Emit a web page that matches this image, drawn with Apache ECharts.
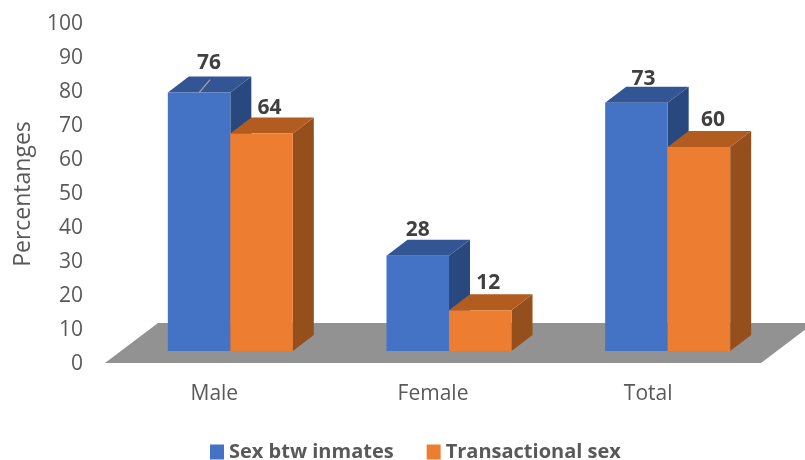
<!DOCTYPE html>
<html>
<head>
<meta charset="utf-8">
<style>html,body{margin:0;padding:0;background:#fff}#chart{width:805px;height:460px}</style>
<script src="https://cdn.jsdelivr.net/npm/echarts@6/dist/echarts.min.js"></script>
</head>
<body>
<div id="chart"></div>
<script>
var categories = ['Male', 'Female', 'Total'];
var inmates = [76, 28, 73];
var transactional = [64, 12, 60];
var yTicks = [0, 100, 10];

// label nudges, from the top centre of the front face of each bar
var inmatesNudge = [[10, -30], [0, -26], [7, -24]];
var transactionalNudge = [[8, -25], [8, -27], [14, -27]];

var FONT = '"Open Sans", sans-serif';
var BAR_W = 62.5, DX = 21, DY = -16;
var SHIFT_X = 16, SHIFT_Y = -13;

function poly(points, color) {
    return {type: 'polygon', shape: {points: points}, style: {fill: color}};
}

var makeBars = function (side, front, top, edge, nudges) {
    return function (params, api) {
        var i = params.dataIndex;
        var t = api.coord([api.value(0), api.value(1)]);
        var b = api.coord([api.value(0), 0]);
        // side 0 sits left of the category centre, side 1 right of it
        var x0 = t[0] + SHIFT_X + (side - 1) * BAR_W, x1 = x0 + BAR_W;
        var y0 = t[1] + SHIFT_Y, y1 = b[1] + SHIFT_Y;
        var n = nudges[i];
        var cx = (x0 + x1) / 2;
        var children = [
            poly([[x1, y0], [x1 + DX, y0 + DY], [x1 + DX, y1 + DY], [x1, y1]], edge),
            poly([[x0, y0], [x0 + DX, y0 + DY], [x1 + DX, y0 + DY], [x1, y0]], top),
            poly([[x0, y0], [x1, y0], [x1, y1], [x0, y1]], front)
        ];
        // the original has a leader line on the first label only
        if (side === 0 && i === 0) {
            children.push({type: 'line', shape: {x1: cx, y1: y0, x2: cx + 11, y2: y0 - 13},
                style: {stroke: '#a6a6a6', lineWidth: 1.2}});
        }
        children.push({type: 'text', style: {
            x: cx + n[0], y: y0 + n[1], text: String(api.value(1)),
            align: 'center', verticalAlign: 'middle',
            font: 'bold 21px ' + FONT, fill: '#404040'
        }});
        return {type: 'group', children: children};
    };
};

var myChart = echarts.init(document.getElementById('chart'), null, {renderer: 'canvas'});

var option = {
    animation: false,
    backgroundColor: '#ffffff',
    grid: {left: 105, right: 44, top: 24, bottom: 96, outerBoundsMode: 'none'},
    legend: {
        data: ['Sex btw inmates', 'Transactional sex'],
        left: 205, top: 437,
        icon: 'rect', itemWidth: 14, itemHeight: 15, itemGap: 33,
        textStyle: {fontFamily: FONT, fontWeight: 'bold', fontSize: 20, color: '#595959'}
    },
    xAxis: {
        type: 'category',
        data: categories,
        axisLine: {show: false},
        axisTick: {show: false},
        axisLabel: {
            fontFamily: FONT, fontSize: 21, color: '#595959', margin: 20,
            // "Total" sits a little left of its slot in the original
            formatter: function (v) { return v === 'Total' ? '{last|' + v + '}' : v; },
            rich: {last: {fontFamily: FONT, fontSize: 21, color: '#595959', padding: [0, 7, 0, 0]}}
        }
    },
    yAxis: {
        type: 'value',
        min: yTicks[0], max: yTicks[1], interval: yTicks[2],
        name: 'Percentanges',
        nameLocation: 'middle',
        nameGap: 70,
        nameTextStyle: {fontFamily: FONT, fontSize: 23, color: '#595959'},
        axisLine: {show: false},
        axisTick: {show: false},
        splitLine: {show: false},
        axisLabel: {fontFamily: FONT, fontSize: 21, color: '#595959', margin: 22}
    },
    series: [{
        type: 'custom',
        name: 'floor',
        silent: true,
        data: [[0, 0]],
        renderItem: function (params) {
            var g = params.coordSys;
            var yb = g.y + g.height - 1, yt = yb - 40, run = 53;
            return poly([[g.x, yb], [g.x + run, yt], [g.x + g.width + run, yt], [g.x + g.width, yb]], '#929292');
        }
    }, {
        type: 'custom',
        name: 'Sex btw inmates',
        itemStyle: {color: '#4472C4'},
        encode: {x: 0, y: 1},
        data: categories.map(function (c, i) { return [i, inmates[i]]; }),
        renderItem: makeBars(0, '#4472C4', '#335593', '#2A4880', inmatesNudge)
    }, {
        type: 'custom',
        name: 'Transactional sex',
        itemStyle: {color: '#ED7D31'},
        encode: {x: 0, y: 1},
        data: categories.map(function (c, i) { return [i, transactional[i]]; }),
        renderItem: makeBars(1, '#ED7D31', '#B25C20', '#954F1C', transactionalNudge)
    }]
};
myChart.setOption(option);
</script>
</body>
</html>
